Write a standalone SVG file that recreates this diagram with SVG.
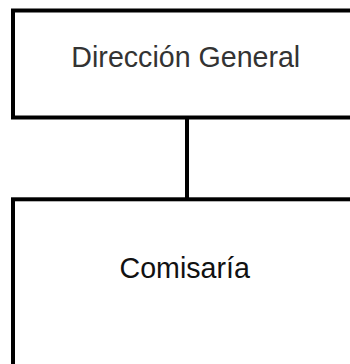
<svg xmlns="http://www.w3.org/2000/svg" width="350" height="364" viewBox="0 0 350 364">
<style>
.box{fill:#ffffff;stroke:#000000;stroke-width:4}
.lbl{font-family:"Liberation Sans",Arial,sans-serif;font-size:28.6px;text-anchor:middle}
.conn{stroke:#000000;stroke-width:4;fill:none}
</style>
<rect width="350" height="364" fill="#ffffff"/>
<g id="connectors">
<line class="conn" x1="187" y1="117.5" x2="187" y2="199.3"/>
</g>
<g id="node-direccion">
<rect class="box" x="13" y="10.5" width="360" height="107"/>
<text class="lbl" x="185.8" y="66.7" fill="#333333">Dirección General</text>
</g>
<g id="node-comisaria">
<rect class="box" x="13" y="199.3" width="360" height="200"/>
<text class="lbl" x="184.7" y="277.7" fill="#111111">Comisaría</text>
</g>
</svg>
